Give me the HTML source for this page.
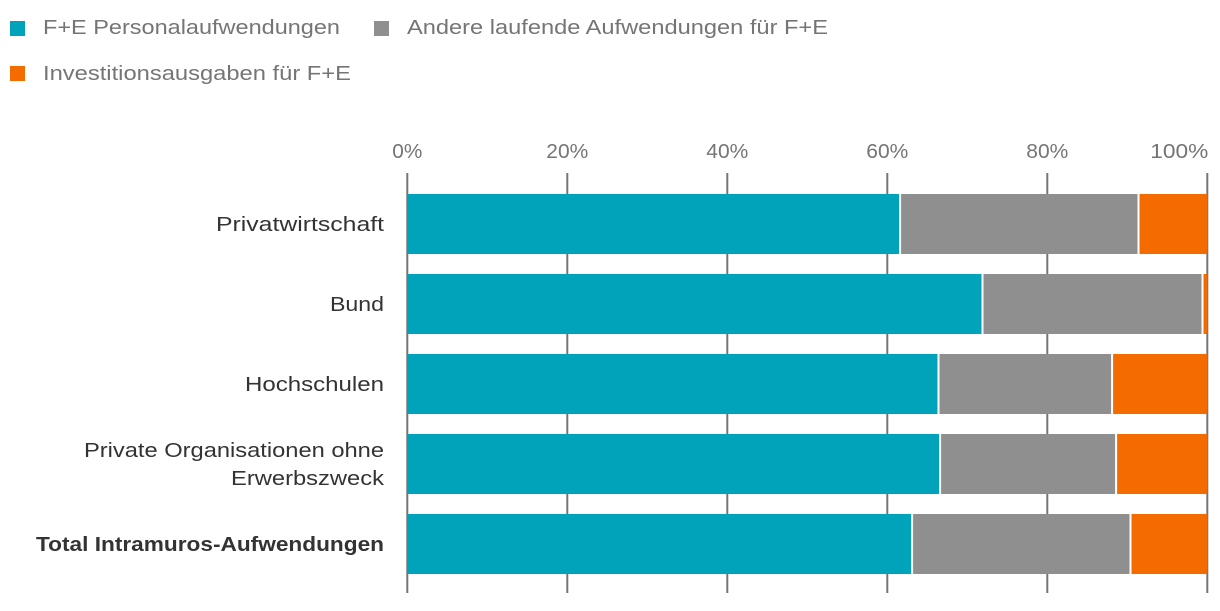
<!DOCTYPE html>
<html><head><meta charset="utf-8"><style>
body{margin:0;background:#fff;font-family:"Liberation Sans",sans-serif;}
svg text{font-family:"Liberation Sans",sans-serif;}
</style></head><body>
<svg width="1220" height="606" xmlns="http://www.w3.org/2000/svg">
<g id="legend">
 <g><rect x="10" y="21" width="15" height="15" fill="#00a3b9"/><text x="43" y="34" font-size="20" fill="#757575" textLength="297" lengthAdjust="spacingAndGlyphs">F+E Personalaufwendungen</text></g>
 <g><rect x="374" y="21" width="15" height="15" fill="#8f8f8f"/><text x="407" y="34" font-size="20" fill="#757575" textLength="421" lengthAdjust="spacingAndGlyphs">Andere laufende Aufwendungen für F+E</text></g>
 <g><rect x="10" y="66" width="15" height="15" fill="#f46b00"/><text x="43" y="80" font-size="20" fill="#757575" textLength="308" lengthAdjust="spacingAndGlyphs">Investitionsausgaben für F+E</text></g>
</g>
<g id="grid"></g>
<g id="bars"></g>
<g id="ylabels"></g>
</svg>
<script>
const categories=["Privatwirtschaft","Bund","Hochschulen","Private Organisationen ohne|Erwerbszweck","Total Intramuros-Aufwendungen"];
const personal=[61.6,71.9,66.4,66.6,63.1];
const andere=[29.8,27.5,21.7,22.0,27.3];
const invest=[8.6,0.6,11.9,11.4,9.6];
const ticks=[0,20,40,60,80,100];
const colors=["#00a3b9","#8f8f8f","#f46b00"];
const NS="http://www.w3.org/2000/svg";
const x=v=>407.3+v*8;
const yRow=i=>194+i*80;
function mk(t,a,p){const e=document.createElementNS(NS,t);for(const k in a)e.setAttribute(k,a[k]);p.appendChild(e);return e;}
function fit(t,w){if(!w)return;t.setAttribute('textLength',w);t.setAttribute('lengthAdjust','spacingAndGlyphs');}
const grid=document.getElementById('grid'),bars=document.getElementById('bars'),yl=document.getElementById('ylabels');
ticks.forEach(t=>{
 const l=mk('line',{x1:x(t),x2:x(t),y1:173,y2:593,stroke:'#757575','stroke-width':2},grid);
 
 
 const tx=mk('text',{x:x(t),y:158,'font-size':20,fill:'#757575','text-anchor':t==100?'end':'middle'},grid);
 if(t==100)tx.setAttribute('x',x(t)+1);
 tx.textContent=t+'%';
 fit(tx,t==0?30:(t==100?58:42));
 
 
});
const labelW={"Privatwirtschaft":168,"Bund":54,"Hochschulen":139,"Private Organisationen ohne":300,"Erwerbszweck":153,"Total Intramuros-Aufwendungen":348};
const series=[personal,andere,invest];
categories.forEach((c,i)=>{
 let acc=0;
 series.forEach((s,k)=>{
  const v=s[i];const x0=x(acc)+(acc>0?1:0.7);const x1=x(acc+v)-(k<2?1:0);
  const r=mk('rect',{x:x0,y:yRow(i),width:Math.max(0,x1-x0),height:60,fill:colors[k]},bars);
  
  
  acc+=v;
 });
 const parts=c.split('|');const bold=i==4;
 parts.forEach((p,j)=>{
  const cy=yRow(i)+30+7+(parts.length>1?(j==0?-14:14):0);
  const t=mk('text',{x:384,y:cy,'font-size':20,fill:'#333','text-anchor':'end','font-weight':bold?'bold':'normal'},yl);
  t.textContent=p;
  fit(t,labelW[p]);
  
  
 });
});
</script>
</body></html>
